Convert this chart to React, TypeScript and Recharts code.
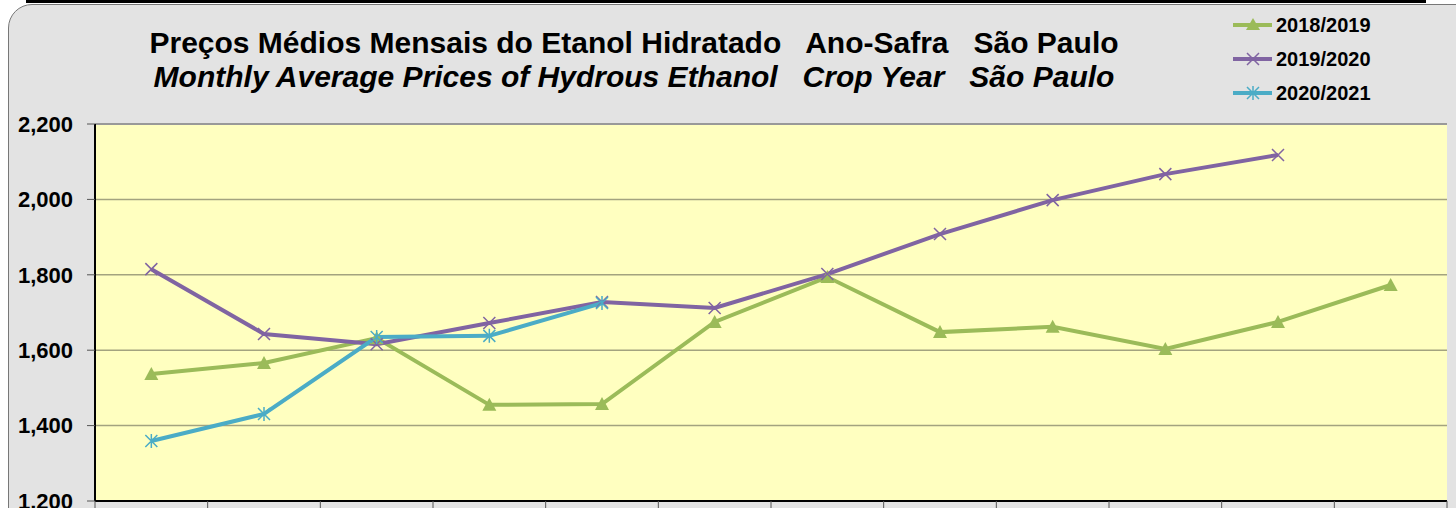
import React from 'react';
import {
  LineChart,
  Line,
  XAxis,
  YAxis,
  CartesianGrid,
  ReferenceLine,
} from 'recharts';

// Crop year months (Apr -> Mar)
const months = ['Abr', 'Mai', 'Jun', 'Jul', 'Ago', 'Set', 'Out', 'Nov', 'Dez', 'Jan', 'Fev', 'Mar'];
const safra1819 = [1537, 1566, 1632, 1455, 1457, 1675, 1794, 1648, 1662, 1603, 1675, 1773];
const safra1920 = [1815, 1643, 1616, 1672, 1728, 1712, 1802, 1908, 1998, 2067, 2118, null];
const safra2021 = [1359, 1431, 1635, 1638, 1725, null, null, null, null, null, null, null];
const yTicks = [1200, 1400, 1600, 1800, 2000, 2200];
const xBounds = [0, 1, 2, 3, 4, 5, 6, 7, 8, 9, 10, 11, 12];

const GREEN = '#9bbb59';
const PURPLE = '#8064a2';
const CYAN = '#4bacc6';

const data = months.map((m, i) => ({
  month: m,
  pos: i + 0.5,
  s1: safra1819[i],
  s2: safra1920[i],
  s3: safra2021[i],
}));

const Triangle = (props: any) => {
  const { cx, cy } = props;
  if (cx == null || cy == null) return null;
  return <path d={`M${cx},${cy - 7} L${cx + 7},${cy + 6} L${cx - 7},${cy + 6} Z`} fill={GREEN} />;
};

const Cross = (props: any) => {
  const { cx, cy } = props;
  if (cx == null || cy == null) return null;
  return (
    <path d={`M${cx - 6},${cy - 6} L${cx + 6},${cy + 6} M${cx - 6},${cy + 6} L${cx + 6},${cy - 6}`} stroke={PURPLE} strokeWidth={1.5} />
  );
};

const Star = (props: any) => {
  const { cx, cy } = props;
  if (cx == null || cy == null) return null;
  return (
    <path
      d={`M${cx - 6},${cy - 6} L${cx + 6},${cy + 6} M${cx - 6},${cy + 6} L${cx + 6},${cy - 6} M${cx},${cy - 7} L${cx},${cy + 7}`}
      stroke={CYAN}
      strokeWidth={1.5}
    />
  );
};

const legendItems = [
  { label: '2018/2019', color: GREEN, marker: 'tri' },
  { label: '2019/2020', color: PURPLE, marker: 'x' },
  { label: '2020/2021', color: CYAN, marker: 'star' },
];

export default function App() {
  return (
    <div style={{ position: 'absolute', top: 0, left: 0, width: 1456, height: 508, overflow: 'hidden', background: '#fff', fontFamily: '"Liberation Sans", Arial, sans-serif' }}>
      <div style={{ position: 'absolute', left: 26, top: 0, width: 1400, height: 3, background: '#000' }} />
      <div style={{ position: 'absolute', left: 8, top: 4, width: 1470, height: 560, borderRadius: 24, border: '1.5px solid #777', background: '#e3e3e3' }} />

      {/* Title */}
      <div style={{ position: 'absolute', left: 0, top: 26, width: 1268, textAlign: 'center', fontWeight: 'bold', fontSize: 30, lineHeight: '34px', color: '#000', whiteSpace: 'pre' }}>
        <div>{'Preços Médios Mensais do Etanol Hidratado   Ano-Safra   São Paulo'}</div>
        <div style={{ fontStyle: 'italic' }}>{'Monthly Average Prices of Hydrous Ethanol   Crop Year   São Paulo'}</div>
      </div>

      {/* Legend */}
      <div style={{ position: 'absolute', left: 1233, top: 8 }}>
        {legendItems.map((it) => (
          <div key={it.label} style={{ display: 'flex', alignItems: 'center', height: 34 }}>
            <svg width={40} height={16}>
              <line x1={0} y1={8} x2={39} y2={8} stroke={it.color} strokeWidth={4} />
              {it.marker === 'tri' && <path d="M20,1 L27,13 L13,13 Z" fill={it.color} />}
              {it.marker === 'x' && <path d="M14,2 L26,14 M14,14 L26,2" stroke={it.color} strokeWidth={1.5} />}
              {it.marker === 'star' && <path d="M14,2 L26,14 M14,14 L26,2 M20,1 L20,15" stroke={it.color} strokeWidth={1.5} />}
            </svg>
            <span style={{ marginLeft: 3, fontWeight: 'bold', fontSize: 20, color: '#000' }}>{it.label}</span>
          </div>
        ))}
      </div>

      <div style={{ position: 'absolute', left: 0, top: 0 }}>
        <LineChart width={1456} height={531} data={data} margin={{ top: 124, right: 9, left: 0, bottom: 0 }}>
          <CartesianGrid horizontal vertical={false} stroke="#a3a37f" strokeWidth={1.5} fill="#ffffc0" />
          <XAxis
            dataKey="pos"
            type="number"
            domain={[0, 12]}
            ticks={xBounds}
            tickFormatter={() => ''}
            axisLine={{ stroke: '#000', strokeWidth: 2 }}
            tickLine={{ stroke: '#555' }}
            tickSize={10}
            height={30}
          />
          <YAxis
            domain={[1200, 2200]}
            ticks={yTicks}
            width={95}
            tickFormatter={(v: number) => v.toLocaleString('en-US')}
            tick={{ fill: '#000', fontSize: 22, fontWeight: 'bold' }}
            axisLine={{ stroke: '#000', strokeWidth: 2 }}
            tickLine={{ stroke: '#555' }}
            tickSize={8}
            tickMargin={14}
          />
          <YAxis yAxisId="r" orientation="right" width={0} tick={false} tickLine={false} axisLine={{ stroke: '#888', strokeWidth: 3 }} />
          <ReferenceLine y={2200} stroke="#999" strokeWidth={2} />
          <Line type="linear" dataKey="s1" stroke={GREEN} strokeWidth={4} dot={<Triangle />} activeDot={false} isAnimationActive={false} />
          <Line type="linear" dataKey="s2" stroke={PURPLE} strokeWidth={4} dot={<Cross />} activeDot={false} isAnimationActive={false} />
          <Line type="linear" dataKey="s3" stroke={CYAN} strokeWidth={4} dot={<Star />} activeDot={false} isAnimationActive={false} />
        </LineChart>
      </div>
    </div>
  );
}
